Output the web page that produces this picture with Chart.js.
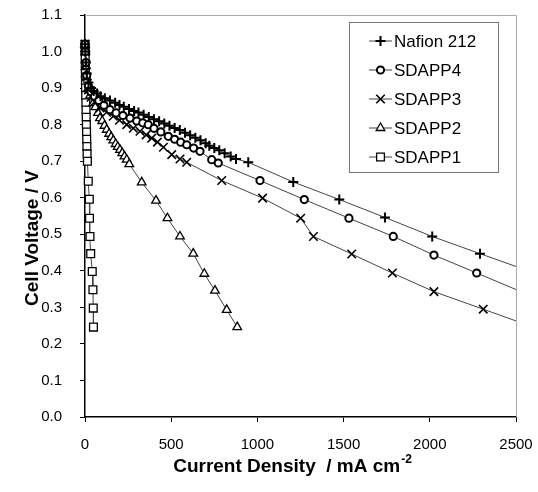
<!DOCTYPE html>
<html>
<head>
<meta charset="utf-8">
<title>Polarization curves</title>
<script src="https://cdn.jsdelivr.net/npm/chart.js@4.4.1/dist/chart.umd.min.js"></script>
<style>
html, body { margin: 0; padding: 0; background: #fff; }
#wrap { width: 538px; height: 492px; }
</style>
</head>
<body>
<div id="wrap"><canvas id="polChart" width="538" height="492"></canvas></div>
<script>
// Current density (mA cm-2) and cell voltage (V) for each membrane
const nafionJ = [0, 2, 5, 10, 20, 35, 50, 70, 90, 115, 145, 175, 200, 225, 255, 285, 310, 340, 370, 400, 430, 460, 490, 520, 550, 580, 610, 640, 670, 700, 721, 750, 779, 810, 845, 876, 947, 1208, 1475, 1740, 2014, 2291, 2600];
const nafionV = [1.02, 1.0, 0.97, 0.94, 0.915, 0.90, 0.892, 0.885, 0.878, 0.872, 0.866, 0.860, 0.854, 0.849, 0.843, 0.837, 0.833, 0.827, 0.821, 0.815, 0.809, 0.803, 0.797, 0.791, 0.785, 0.778, 0.771, 0.764, 0.757, 0.749, 0.742, 0.736, 0.730, 0.722, 0.713, 0.706, 0.697, 0.643, 0.595, 0.546, 0.494, 0.447, 0.395];

const sdapp4J = [0, 2, 5, 10, 20, 35, 55, 80, 110, 145, 180, 220, 261, 300, 335, 367, 400, 440, 483, 520, 555, 590, 630, 667, 735, 773, 1015, 1272, 1531, 1788, 2024, 2272, 2600];
const sdapp4V = [1.02, 1.0, 0.97, 0.935, 0.905, 0.89, 0.878, 0.866, 0.853, 0.841, 0.832, 0.825, 0.818, 0.81, 0.805, 0.80, 0.79, 0.78, 0.768, 0.76, 0.752, 0.745, 0.736, 0.727, 0.704, 0.695, 0.647, 0.595, 0.544, 0.494, 0.443, 0.394, 0.329];

const sdapp3J = [0, 2, 5, 10, 20, 35, 55, 87, 125, 164, 200, 242, 280, 319, 355, 387, 420, 455, 503, 551, 590, 793, 1030, 1251, 1325, 1547, 1783, 2024, 2310, 2600];
const sdapp3V = [1.02, 1.0, 0.965, 0.93, 0.895, 0.875, 0.862, 0.846, 0.834, 0.823, 0.812, 0.80, 0.79, 0.782, 0.772, 0.763, 0.752, 0.738, 0.718, 0.706, 0.697, 0.647, 0.599, 0.544, 0.494, 0.446, 0.394, 0.343, 0.295, 0.246];

const sdapp2J = [0, 2, 5, 10, 20, 30, 48, 60, 75, 87, 100, 113, 126, 140, 152, 164, 178, 190, 203, 216, 229, 242, 257, 329, 412, 478, 551, 628, 692, 754, 822, 883];
const sdapp2V = [1.02, 1.0, 0.96, 0.93, 0.9, 0.88, 0.859, 0.848, 0.832, 0.818, 0.81, 0.797, 0.786, 0.775, 0.766, 0.757, 0.747, 0.739, 0.731, 0.722, 0.713, 0.704, 0.692, 0.642, 0.592, 0.544, 0.494, 0.447, 0.392, 0.346, 0.293, 0.246];

const sdapp1J = [0, 0.5, 1, 1.5, 2, 2.5, 3, 4, 5, 6, 7, 8, 9, 10, 11, 12, 14, 19, 25, 26, 29, 33, 42, 46, 48, 49];
const sdapp1V = [1.02, 1.0, 0.98, 0.96, 0.94, 0.92, 0.90, 0.88, 0.86, 0.84, 0.82, 0.80, 0.78, 0.76, 0.74, 0.72, 0.70, 0.645, 0.596, 0.544, 0.494, 0.447, 0.398, 0.348, 0.298, 0.246];

const seriesNames = ['Nafion 212', 'SDAPP4', 'SDAPP3', 'SDAPP2', 'SDAPP1'];
const xTicks = [0, 500, 1000, 1500, 2000, 2500];
const yTicks = [0.0, 0.1, 0.2, 0.3, 0.4, 0.5, 0.6, 0.7, 0.8, 0.9, 1.0, 1.1];

const FONT = '"Liberation Sans", Arial, sans-serif';

function toPoints(js, vs) {
    return js.map((j, i) => ({ x: j, y: vs[i] }));
}

// marker look for each curve, same order as seriesNames
const markers = [
    { pointStyle: 'cross', radius: 5, width: 2 },
    { pointStyle: 'circle', radius: 3.6, width: 2 },
    { pointStyle: 'crossRot', radius: 6, width: 1.6 },
    { pointStyle: 'triangle', radius: 5, width: 1.3 },
    { pointStyle: 'rect', radius: 5.5, width: 1.3 }
];

const curves = [
    toPoints(nafionJ, nafionV),
    toPoints(sdapp4J, sdapp4V),
    toPoints(sdapp3J, sdapp3V),
    toPoints(sdapp2J, sdapp2V),
    toPoints(sdapp1J, sdapp1V)
];

const datasets = curves.map((pts, i) => ({
    label: seriesNames[i],
    data: pts,
    showLine: true,
    borderColor: '#444',
    borderWidth: 1,
    pointStyle: markers[i].pointStyle,
    pointRadius: markers[i].radius,
    pointHoverRadius: markers[i].radius,
    pointBorderWidth: markers[i].width,
    pointBorderColor: '#000',
    pointBackgroundColor: '#fff',
    clip: { left: 10, top: 10, right: 0, bottom: 10 }
}));

// light frame on top/right, legend box and axis titles
const decorations = {
    id: 'decorations',
    beforeDatasetsDraw(chart) {
        const { ctx, chartArea: ca } = chart;
        ctx.save();
        ctx.strokeStyle = '#aaa';
        ctx.lineWidth = 1;
        ctx.beginPath();
        ctx.moveTo(ca.left, ca.top + 0.5);
        ctx.lineTo(ca.right + 0.5, ca.top + 0.5);
        ctx.lineTo(ca.right + 0.5, ca.bottom);
        ctx.stroke();
        ctx.restore();
    },
    afterDraw(chart) {
        const { ctx, chartArea: ca } = chart;
        ctx.save();

        // legend
        const bx = ca.right - 167, by = ca.top + 7, bw = 149, bh = 150;
        ctx.fillStyle = '#fff';
        ctx.fillRect(bx, by, bw, bh);
        ctx.strokeStyle = '#777';
        ctx.lineWidth = 1;
        ctx.strokeRect(bx + 0.5, by + 0.5, bw, bh);
        ctx.font = '17px ' + FONT;
        ctx.textBaseline = 'middle';
        ctx.textAlign = 'left';
        seriesNames.forEach((name, i) => {
            const y = by + 19 + i * 29;
            const x0 = bx + 20, x1 = bx + 43, xm = (x0 + x1) / 2;
            ctx.strokeStyle = '#444';
            ctx.lineWidth = 1;
            ctx.beginPath();
            ctx.moveTo(x0, y);
            ctx.lineTo(x1, y);
            ctx.stroke();
            ctx.strokeStyle = '#000';
            ctx.fillStyle = '#fff';
            ctx.lineWidth = markers[i].width;
            Chart.helpers.drawPoint(ctx, {
                pointStyle: markers[i].pointStyle,
                radius: markers[i].radius,
                borderWidth: markers[i].width,
                rotation: 0
            }, xm, y);
            ctx.fillStyle = '#000';
            ctx.fillText(name, x1 + 2, y + 1);
        });

        // axis titles
        ctx.fillStyle = '#000';
        ctx.font = 'bold 19px ' + FONT;
        const main = 'Current Density  / mA cm';
        const sup = '-2';
        const wMain = ctx.measureText(main).width;
        ctx.font = 'bold 12px ' + FONT;
        const wSup = ctx.measureText(sup).width;
        const tx = 292 - (wMain + wSup) / 2;
        ctx.font = 'bold 19px ' + FONT;
        ctx.textAlign = 'left';
        ctx.textBaseline = 'alphabetic';
        ctx.fillText(main, tx, 472);
        ctx.font = 'bold 12px ' + FONT;
        ctx.fillText(sup, tx + wMain + 1, 463);

        ctx.translate(33, 238);
        ctx.rotate(-Math.PI / 2);
        ctx.font = 'bold 19px ' + FONT;
        ctx.textAlign = 'center';
        ctx.textBaseline = 'middle';
        ctx.fillText('Cell Voltage / V', 0, 0);
        ctx.restore();
    }
};

new Chart(document.getElementById('polChart').getContext('2d'), {
    type: 'scatter',
    data: { datasets: datasets },
    options: {
        responsive: false,
        animation: false,
        events: [],
        layout: { padding: { top: 15, right: 22, left: 0, bottom: 0 } },
        plugins: {
            legend: { display: false },
            tooltip: { enabled: false }
        },
        scales: {
            x: {
                type: 'linear',
                min: 0,
                max: 2500,
                afterBuildTicks: scale => { scale.ticks = xTicks.map(v => ({ value: v })); },
                afterFit: scale => {
                    scale.height = 75;
                    scale.paddingLeft = 0;
                    scale.paddingRight = 0;
                },
                border: { color: '#000', width: 1.5 },
                grid: { drawOnChartArea: false, color: '#000', tickLength: 5, tickWidth: 1 },
                ticks: {
                    color: '#000',
                    padding: 14,
                    maxRotation: 0,
                    font: { family: FONT, size: 15 },
                    callback: v => String(v)
                }
            },
            y: {
                type: 'linear',
                min: 0,
                max: 1.1,
                afterBuildTicks: scale => { scale.ticks = yTicks.map(v => ({ value: v })); },
                afterFit: scale => {
                    scale.width = 85;
                    scale.paddingTop = 0;
                    scale.paddingBottom = 0;
                },
                border: { color: '#000', width: 1.5 },
                grid: { drawOnChartArea: false, color: '#000', tickLength: 5, tickWidth: 1 },
                ticks: {
                    color: '#000',
                    padding: 18,
                    font: { family: FONT, size: 15 },
                    callback: v => Number(v).toFixed(1)
                }
            }
        }
    },
    plugins: [decorations]
});
</script>
</body>
</html>
